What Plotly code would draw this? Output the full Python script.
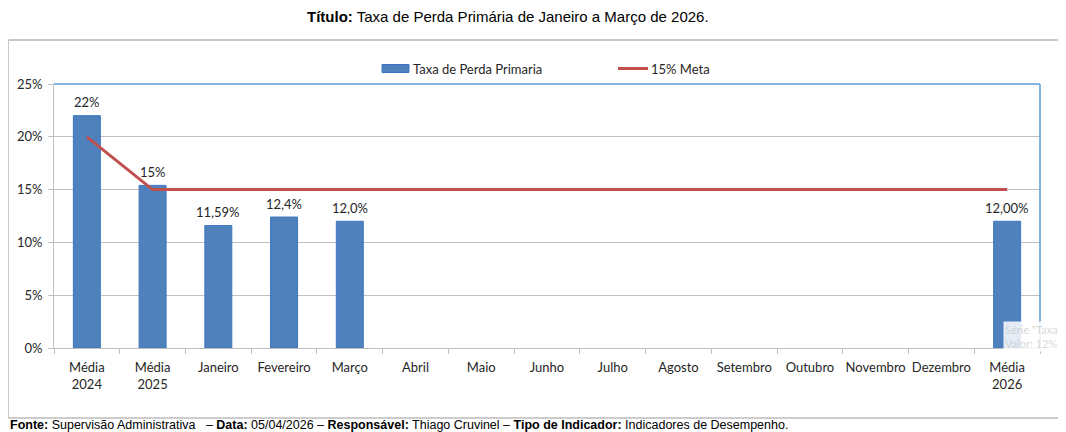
import plotly.graph_objects as go

categories = ["Média<br>2024", "Média<br>2025", "Janeiro", "Fevereiro", "Março", "Abril", "Maio",
              "Junho", "Julho", "Agosto", "Setembro", "Outubro", "Novembro", "Dezembro", "Média<br>2026"]
taxa_values = [0.22, 0.154, 0.1159, 0.124, 0.120, None, None, None, None, None, None, None, None, None, 0.120]
taxa_labels = ["22%", "15%", "11,59%", "12,4%", "12,0%", "", "", "", "", "", "", "", "", "", "12,00%"]
meta_values = [0.20, 0.15, 0.15, 0.15, 0.15, 0.15, 0.15, 0.15, 0.15, 0.15, 0.15, 0.15, 0.15, 0.15, 0.15]
y_ticks = [0, 0.05, 0.10, 0.15, 0.20, 0.25]
y_ticklabels = ["0%", "5%", "10%", "15%", "20%", "25%"]

# page body has an 8px margin: figure origin sits at window (8, 8)
OFF = 8
W, H = 1058, 424
L = 54 - OFF
T = 84 - OFF
R = W - (1040 - OFF)
B = H - (348 - OFF)
PW, PH = W - L - R, H - T - B


def px(wx):
    return (wx - OFF - L) / PW


def py(wy):
    return (H - B - (wy - OFF)) / PH


CHART_FONT = "Lato, 'Open Sans', sans-serif"
FS = 13
BLUE = "#4f81bd"
RED = "#c0504d"
TXT = "#262626"

fig = go.Figure()
fig.add_trace(go.Bar(
    x=categories, y=taxa_values, name="Taxa de Perda Primaria",
    marker=dict(color=BLUE, line=dict(color="#3a75c4", width=1)),
    width=0.41,
))
fig.add_trace(go.Scatter(
    x=categories, y=meta_values, name="15% Meta", mode="lines",
    line=dict(color=RED, width=3),
))

shapes = []
# outer chart border
shapes.append(dict(type="line", xref="paper", yref="paper", x0=px(8.5), x1=px(1075), y0=py(40), y1=py(40),
                   line=dict(color="#c8c8c8", width=2)))
shapes.append(dict(type="line", xref="paper", yref="paper", x0=px(8.5), x1=px(8.5), y0=py(40), y1=py(418),
                   line=dict(color="#c8c8c8", width=1)))
shapes.append(dict(type="line", xref="paper", yref="paper", x0=px(8.5), x1=px(1075), y0=py(418), y1=py(418),
                   line=dict(color="#9a9a9a", width=1)))
# plot area selection outline (top & right)
shapes.append(dict(type="line", xref="paper", yref="paper", x0=0, x1=1, y0=1, y1=1,
                   line=dict(color="#5b9bd5", width=1.5)))
shapes.append(dict(type="line", xref="paper", yref="paper", x0=1, x1=1, y0=0, y1=1,
                   line=dict(color="#5b9bd5", width=1.5)))
# manual legend symbols
shapes.append(dict(type="rect", xref="paper", yref="paper", x0=px(382), x1=px(409), y0=py(72.5), y1=py(64.5),
                   fillcolor=BLUE, line=dict(color="#3a75c4", width=1)))
shapes.append(dict(type="line", xref="paper", yref="paper", x0=px(618), x1=px(648), y0=py(68.5), y1=py(68.5),
                   line=dict(color=RED, width=3)))

annotations = [
    dict(text="<b>Título:</b> Taxa de Perda Primária de Janeiro a Março de 2026.",
         xref="paper", yref="paper", x=px(508), y=py(16), xanchor="center", yanchor="middle",
         showarrow=False, font=dict(family="Liberation Sans, Arial", size=15, color="#000000")),
    dict(text="<b>Fonte:</b> Supervisão Administrativa   – <b>Data:</b> 05/04/2026 – <b>Responsável:</b> Thiago Cruvinel – "
              "<b>Tipo de Indicador:</b> Indicadores de Desempenho.",
         xref="paper", yref="paper", x=px(8), y=py(425), xanchor="left", yanchor="middle",
         showarrow=False, font=dict(family="Liberation Sans, Arial", size=12.5, color="#000000")),
    dict(text="Taxa de Perda Primaria", xref="paper", yref="paper", x=px(411), y=py(68.5),
         xanchor="left", yanchor="middle", showarrow=False,
         font=dict(family=CHART_FONT, size=FS, color=TXT)),
    dict(text="15% Meta", xref="paper", yref="paper", x=px(649), y=py(68.5),
         xanchor="left", yanchor="middle", showarrow=False,
         font=dict(family=CHART_FONT, size=FS, color=TXT)),
    dict(text="Série \"Taxa<br>Valor: 12%", xref="paper", yref="paper", x=px(1003), y=py(336),
         xanchor="left", yanchor="middle", showarrow=False, align="left",
         bgcolor="rgba(255,255,255,0.85)",
         font=dict(family=CHART_FONT, size=11, color="rgba(190,190,190,0.6)")),
]
# data labels above bars, positioned from the data through the axes
for cat, val, lab in zip(categories, taxa_values, taxa_labels):
    if val is None or not lab:
        continue
    annotations.append(dict(text=lab, x=cat, y=val, xref="x", yref="y", yanchor="middle",
                            yshift=13.5, showarrow=False,
                            font=dict(family=CHART_FONT, size=FS, color=TXT)))

fig.update_layout(
    width=W, height=H,
    margin=dict(l=L, r=R, t=T, b=B),
    paper_bgcolor="white", plot_bgcolor="white",
    showlegend=False,
    font=dict(family=CHART_FONT, size=FS, color=TXT),
    shapes=shapes, annotations=annotations,
)
fig.update_xaxes(
    type="category", tickson="boundaries", ticks="outside", ticklen=5, tickcolor="#bfbfbf",
    showline=True, linecolor="#bfbfbf", linewidth=1, showgrid=False,
    tickfont=dict(family=CHART_FONT, size=FS, color=TXT),
    tickangle=0, automargin=False,
    ticklabelstandoff=7,
    range=[-0.5, 14.5],
)
fig.update_yaxes(
    range=[0, 0.25], tickvals=y_ticks, ticktext=y_ticklabels,
    ticks="outside", ticklen=5, tickcolor="#bfbfbf",
    showline=True, linecolor="#bfbfbf", linewidth=1,
    showgrid=True, gridcolor="#c0c0c0", gridwidth=1, zeroline=False,
    tickfont=dict(family=CHART_FONT, size=FS, color=TXT),
    ticklabelstandoff=3, automargin=False,
)

fig.write_html("out.html")
